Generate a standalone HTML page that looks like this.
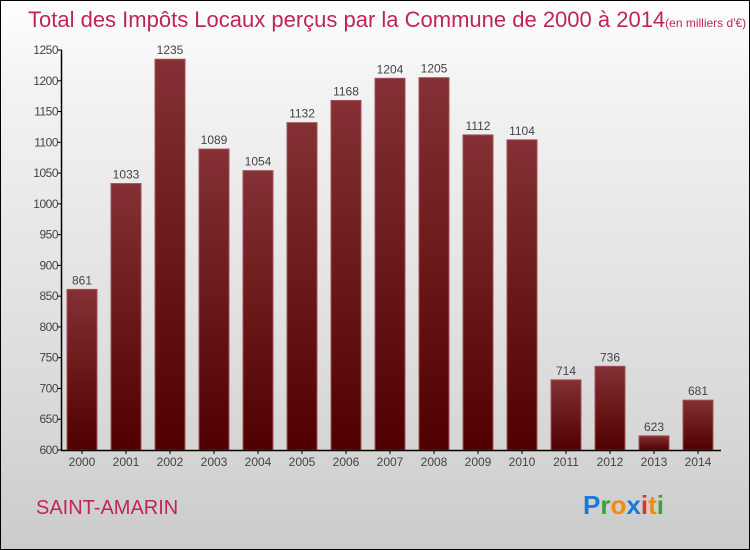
<!DOCTYPE html>
<html><head><meta charset="utf-8"><style>
body{margin:0}
#c{width:750px;height:550px;position:relative;box-sizing:border-box;border:1px solid #000;background:linear-gradient(#fff,#f3f3f3 15%,#d9d9d9 75%,#cbcbcb);font-family:"Liberation Sans","DejaVu Sans",sans-serif;overflow:hidden}
</style></head><body>
<div id="c">
<svg width="750" height="550" style="position:absolute;left:-1px;top:-1px">
<defs><linearGradient id="g" x1="0" y1="0" x2="0" y2="1"><stop offset="0" stop-color="#843034"/><stop offset="1" stop-color="#500000"/></linearGradient></defs>
<text x="28" y="27" font-size="22" fill="#c0245a">Total des Impôts Locaux perçus par la Commune de 2000 à 2014<tspan font-size="12">(en milliers d'€)</tspan></text>
<g id="plot"></g>
<text x="36" y="514" font-size="20" fill="#c0245a">SAINT-AMARIN</text>
<text x="583" y="514" font-size="26" font-weight="bold"><tspan fill="#1a7ad6">P</tspan><tspan fill="#3aa23a">r</tspan><tspan fill="#f08a10">o</tspan><tspan fill="#1a7ad6">x</tspan><tspan fill="#e0302a">i</tspan><tspan fill="#f08a10">t</tspan><tspan fill="#3aa23a">i</tspan></text>
</svg>
</div>
<script>
const years=["2000","2001","2002","2003","2004","2005","2006","2007","2008","2009","2010","2011","2012","2013","2014"];
const values=[861,1033,1235,1089,1054,1132,1168,1204,1205,1112,1104,714,736,623,681];
const ticks=[600,650,700,750,800,850,900,950,1000,1050,1100,1150,1200,1250];
const ns="http://www.w3.org/2000/svg";
const g=document.getElementById('plot');
const y=v=>450-(v-600)*400/650;
const x=i=>67+i*44;
function mk(t,a,txt){const e=document.createElementNS(ns,t);for(const k in a)e.setAttribute(k,a[k]);if(txt!=null)e.textContent=txt;g.appendChild(e);return e;}
values.forEach((v,i)=>{
 const r=mk('rect',{x:x(i),y:y(v),width:30,height:450-y(v),fill:'url(#g)',stroke:'#a05458','stroke-width':1});
 
 
 const l=mk('text',{x:x(i)+15,y:y(v)-5,'text-anchor':'middle','font-size':12,fill:'#444'},v);
 
 
 const yl=mk('text',{x:x(i)+15,y:466,'text-anchor':'middle','font-size':12,fill:'#444'},years[i]);
 
 
 const tk=mk('line',{x1:x(i)+15,x2:x(i)+15,y1:450,y2:454,stroke:'#000'});
 
 
});
ticks.forEach(t=>{
 const tl=mk('text',{x:58,y:y(t)+4,'text-anchor':'end','font-size':12,fill:'#444','letter-spacing':'-0.5'},t);
 
 
 const tk=mk('line',{x1:58,x2:62,y1:y(t),y2:y(t),stroke:'#000'});
 
 
});
const ya=mk('line',{x1:61.5,x2:61.5,y1:50,y2:450.5,stroke:'#000','stroke-width':1.5});


const xa=mk('line',{x1:61,x2:721,y1:450.5,y2:450.5,stroke:'#000','stroke-width':1.5});


</script>
</body></html>
